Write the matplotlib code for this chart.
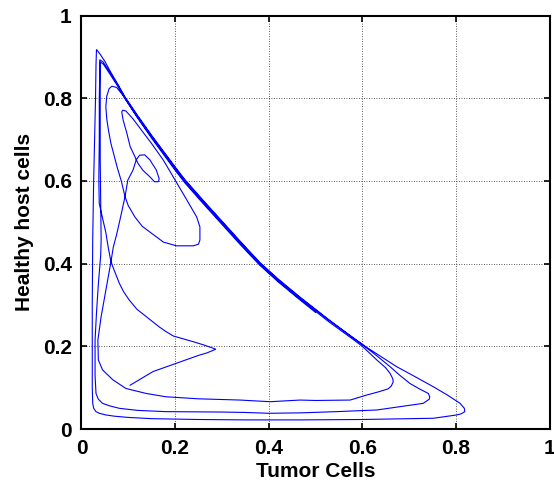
import matplotlib
matplotlib.use("Agg")
import matplotlib.pyplot as plt

# Phase-plane trajectory: tumor cells (x) vs healthy host cells (y), in time order.
initial_phase = [
    (0.104, 0.106), (0.153, 0.139), (0.203, 0.159), (0.25, 0.178), (0.268, 0.184), (0.287, 0.193),
    (0.262, 0.203), (0.239, 0.211), (0.196, 0.225), (0.18, 0.236), (0.166, 0.247), (0.138, 0.272),
    (0.118, 0.29), (0.102, 0.312), (0.09, 0.332), (0.081, 0.352), (0.072, 0.378), (0.066, 0.395),
    (0.062, 0.41), (0.057, 0.44), (0.052, 0.475), (0.045, 0.51), (0.038, 0.545), (0.037, 0.6),
    (0.038, 0.7), (0.038, 0.8), (0.039, 0.86), (0.039, 0.893),
]

first_cycle = [
    (0.046, 0.888), (0.061, 0.862), (0.078, 0.831), (0.093, 0.801), (0.12, 0.756), (0.15, 0.708),
    (0.2, 0.632), (0.221, 0.601), (0.26, 0.551), (0.3, 0.501), (0.34, 0.451), (0.381, 0.401),
    (0.42, 0.361), (0.467, 0.317), (0.53, 0.262), (0.58, 0.221), (0.61, 0.197), (0.64, 0.175),
    (0.673, 0.151), (0.712, 0.127), (0.752, 0.102), (0.782, 0.082), (0.809, 0.062), (0.818, 0.05),
    (0.819, 0.042), (0.812, 0.037), (0.802, 0.034), (0.752, 0.026), (0.7, 0.025), (0.6, 0.023),
    (0.467, 0.022), (0.35, 0.022), (0.25, 0.023), (0.15, 0.025), (0.1, 0.028), (0.07, 0.031),
    (0.052, 0.034), (0.038, 0.038), (0.031, 0.042), (0.026, 0.05), (0.024, 0.062), (0.023, 0.1),
    (0.023, 0.2), (0.023, 0.3), (0.024, 0.46), (0.026, 0.6), (0.028, 0.7), (0.03, 0.8),
    (0.031, 0.88), (0.032, 0.918),
]

second_cycle = [
    (0.04, 0.906), (0.05, 0.889), (0.061, 0.866), (0.078, 0.833), (0.093, 0.803), (0.12, 0.758),
    (0.15, 0.71), (0.2, 0.634), (0.221, 0.603), (0.26, 0.553), (0.3, 0.503), (0.34, 0.453),
    (0.381, 0.403), (0.42, 0.363), (0.467, 0.319), (0.53, 0.263), (0.58, 0.221), (0.6, 0.204),
    (0.63, 0.178), (0.659, 0.151), (0.68, 0.13), (0.702, 0.11), (0.722, 0.097), (0.741, 0.086),
    (0.744, 0.078), (0.743, 0.072), (0.73, 0.062), (0.68, 0.054), (0.631, 0.046), (0.545, 0.042),
    (0.467, 0.039), (0.4, 0.038), (0.35, 0.04), (0.3, 0.041), (0.18, 0.042), (0.12, 0.045),
    (0.081, 0.05), (0.06, 0.056), (0.045, 0.062), (0.036, 0.072), (0.031, 0.086), (0.029, 0.13),
    (0.029, 0.215), (0.032, 0.28), (0.036, 0.35), (0.041, 0.42), (0.042, 0.457), (0.041, 0.55),
    (0.04, 0.65), (0.04, 0.75), (0.04, 0.85), (0.04, 0.888),
]

third_cycle = [
    (0.047, 0.882), (0.061, 0.858), (0.078, 0.828), (0.093, 0.799), (0.12, 0.753), (0.15, 0.706),
    (0.2, 0.629), (0.221, 0.598), (0.26, 0.548), (0.3, 0.498), (0.34, 0.448), (0.381, 0.398),
    (0.42, 0.358), (0.467, 0.314), (0.53, 0.258), (0.58, 0.217), (0.6, 0.2), (0.631, 0.167),
    (0.65, 0.148), (0.659, 0.135), (0.665, 0.122), (0.666, 0.114), (0.662, 0.104), (0.655, 0.097),
    (0.635, 0.09), (0.609, 0.082), (0.574, 0.07), (0.5, 0.069), (0.467, 0.07), (0.403, 0.066),
    (0.339, 0.07), (0.25, 0.073), (0.18, 0.078), (0.138, 0.086), (0.095, 0.098), (0.067, 0.119),
    (0.045, 0.143), (0.036, 0.167), (0.035, 0.215), (0.042, 0.272), (0.052, 0.336), (0.058, 0.375),
    (0.063, 0.405), (0.068, 0.44), (0.075, 0.47), (0.084, 0.515), (0.093, 0.562), (0.099, 0.602),
    (0.11, 0.626), (0.117, 0.651),
]

small_loops = [
    (0.124, 0.662), (0.135, 0.663), (0.146, 0.651), (0.16, 0.626), (0.166, 0.605), (0.164, 0.598),
    (0.156, 0.598), (0.146, 0.61), (0.131, 0.626), (0.121, 0.642), (0.117, 0.651), (0.114, 0.659),
    (0.104, 0.683), (0.097, 0.715), (0.089, 0.747), (0.086, 0.767), (0.088, 0.771), (0.095, 0.769),
    (0.11, 0.75), (0.13, 0.72), (0.15, 0.69), (0.175, 0.65), (0.2, 0.602), (0.225, 0.554),
    (0.246, 0.513), (0.253, 0.489), (0.253, 0.457), (0.25, 0.447), (0.239, 0.443), (0.203, 0.443),
    (0.175, 0.452), (0.15, 0.473), (0.13, 0.49), (0.114, 0.513), (0.1, 0.54), (0.093, 0.562),
    (0.085, 0.6), (0.077, 0.63), (0.07, 0.66), (0.063, 0.69), (0.058, 0.72), (0.054, 0.75),
    (0.052, 0.78), (0.054, 0.805), (0.059, 0.823), (0.065, 0.829),
]

final_descent = [
    (0.075, 0.826), (0.088, 0.808), (0.1, 0.787), (0.12, 0.752), (0.15, 0.703), (0.2, 0.626),
    (0.221, 0.595), (0.26, 0.545), (0.3, 0.495), (0.34, 0.445), (0.381, 0.396), (0.42, 0.356),
    (0.467, 0.312), (0.5, 0.282),
]

phases = [initial_phase, first_cycle, second_cycle, third_cycle, small_loops, final_descent]
tumor = [p[0] for ph in phases for p in ph]
healthy = [p[1] for ph in phases for p in ph]

tick_values = [0, 0.2, 0.4, 0.6, 0.8, 1.0]
tick_labels = ["0", "0.2", "0.4", "0.6", "0.8", "1"]

plt.rcParams["font.family"] = ["Liberation Sans", "DejaVu Sans"]
plt.rcParams["font.weight"] = "bold"

fig = plt.figure(figsize=(5.54, 4.83), dpi=100)
ax = fig.add_axes([0.1471, 0.1118, 0.8448, 0.8561])

ax.plot(tumor, healthy, color="#0000ff", lw=0.8, solid_joinstyle="miter")

ax.set_xlim(0, 1)
ax.set_ylim(0, 1)
ax.set_xticks(tick_values)
ax.set_xticklabels(tick_labels)
ax.set_yticks(tick_values)
ax.set_yticklabels(tick_labels)
ax.grid(True, color="#222222", linestyle=(0, (1, 2)), linewidth=0.6)
ax.set_axisbelow(True)

for s in ax.spines.values():
    s.set_linewidth(1.5)
    s.set_color("black")

ax.tick_params(direction="in", top=True, right=True, length=4, width=1.2,
               labelsize=15, pad=7)
for lab in ax.get_xticklabels() + ax.get_yticklabels():
    lab.set_fontweight("bold")

ax.set_xlabel("Tumor Cells", fontsize=15, fontweight="bold", labelpad=3)
ax.set_ylabel("Healthy host cells", fontsize=15, fontweight="bold", labelpad=6)

fig.savefig("out.png", dpi=100)
